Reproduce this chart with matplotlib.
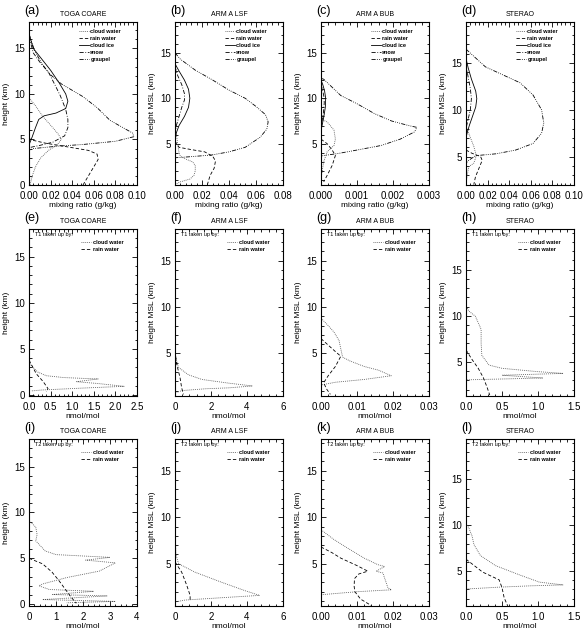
import numpy as np
import matplotlib
matplotlib.use("Agg")
import matplotlib.pyplot as plt
from matplotlib.ticker import MultipleLocator, AutoMinorLocator, FormatStrFormatter

plt.rcParams['font.family'] = ['Liberation Sans', 'DejaVu Sans']

# ---- hydrometeor mixing ratios (g/kg), pairs of (value, height km) ----
a_cloud_water = [(0.001, 0.0), (0.003, 1.0), (0.006, 2.0), (0.011, 3.0), (0.018, 3.8), (0.026, 4.4), (0.030, 5.0),
                 (0.027, 5.6), (0.022, 6.3), (0.013, 7.5), (0.006, 8.7), (0.002, 9.3), (0.0, 9.6)]
a_rain_water = [(0.050, 0.0), (0.055, 1.0), (0.060, 2.0), (0.064, 2.8), (0.063, 3.4), (0.055, 3.8), (0.035, 4.2),
                (0.015, 4.6), (0.004, 4.9), (0.0, 5.1)]
a_cloud_ice = [(0.0, 16.6), (0.004, 15.0), (0.012, 13.8), (0.02, 12.6), (0.028, 11.2), (0.034, 10.0), (0.036, 9.2),
               (0.034, 8.4), (0.025, 7.9), (0.014, 7.6), (0.009, 7.2), (0.006, 6.3), (0.003, 5.3), (0.0, 4.4)]
a_snow = [(0.0, 16.3), (0.004, 14.5), (0.01, 13.5), (0.018, 12.4), (0.024, 11.0), (0.029, 9.8), (0.034, 8.3),
          (0.036, 7.2), (0.036, 6.3), (0.033, 5.4), (0.022, 4.7), (0.01, 4.35), (0.0, 4.1)]
a_graupel = [(0.0, 16.6), (0.005, 14.8), (0.012, 13.3), (0.019, 12.2), (0.03, 11.1), (0.05, 9.7), (0.063, 8.5),
             (0.075, 7.1), (0.087, 6.3), (0.096, 5.7), (0.097, 5.3), (0.08, 4.8), (0.05, 4.45), (0.025, 4.25),
             (0.004, 4.0), (0.0, 3.8)]

b_cloud_water = [(0.0, 0.5), (0.004, 0.8), (0.011, 1.1), (0.014, 1.5), (0.015, 2.0), (0.015, 2.6), (0.013, 3.0),
                 (0.008, 3.3), (0.004, 3.6), (0.003, 4.0), (0.002, 5.0), (0.001, 6.0), (0.0, 6.5)]
b_rain_water = [(0.0, 5.3), (0.003, 4.6), (0.012, 4.35), (0.022, 4.1), (0.028, 3.6), (0.030, 3.1), (0.029, 2.3),
                (0.026, 1.5), (0.024, 0.5)]
b_cloud_ice = [(0.0, 13.8), (0.003, 13.0), (0.007, 12.0), (0.010, 11.0), (0.011, 10.0), (0.010, 9.0),
               (0.007, 8.0), (0.003, 7.0), (0.001, 6.2), (0.0, 5.5)]
b_snow = [(0.0, 13.5), (0.002, 12.5), (0.005, 11.5), (0.007, 10.5), (0.007, 9.8), (0.005, 9.0), (0.003, 8.0),
          (0.001, 7.0), (0.0, 6.0)]
b_graupel = [(0.0, 15.0), (0.004, 14.3), (0.015, 13.1), (0.028, 12.0), (0.04, 10.9), (0.052, 10.0), (0.06, 9.1),
             (0.067, 8.2), (0.069, 7.4), (0.068, 6.6), (0.063, 5.7), (0.052, 4.6), (0.04, 4.1), (0.027, 3.75),
             (0.01, 3.55), (0.0, 3.45)]

c_cloud_water = [(0.0, 7.7), (0.00017, 7.4), (0.00036, 6.5), (0.0004, 5.5), (0.00036, 4.8), (0.00017, 4.1),
                 (0.000075, 3.0), (0.00003, 1.9), (0.0, 1.2)]
c_rain_water = [(0.0, 5.5), (0.00017, 5.0), (0.00031, 4.3), (0.0004, 3.7), (0.00031, 2.6), (0.00017, 1.5),
                (0.000075, 0.8)]
c_cloud_ice = [(0.0, 12.0), (0.00005, 11.5), (0.0001, 10.8), (0.00013, 10.0), (0.00012, 9.0), (0.00008, 8.0),
               (0.00003, 7.0), (0.0, 6.5)]
c_snow = [(0.0, 11.5), (0.00004, 11.0), (0.00008, 10.2), (0.00009, 9.5), (0.00007, 8.5), (0.00003, 7.5),
          (0.0, 6.8)]
c_graupel = [(0.0, 12.2), (0.000075, 12.1), (0.00026, 11.4), (0.00055, 10.3), (0.001, 9.4), (0.00149, 8.3),
             (0.00196, 7.5), (0.00243, 7.0), (0.00266, 6.8), (0.0026, 6.3), (0.0022, 5.5), (0.00167, 4.8),
             (0.001, 4.3), (0.00045, 3.9), (0.000075, 3.7), (0.0, 3.65)]

d_cloud_water = [(0.0, 8.2), (0.0025, 7.5), (0.0072, 6.1), (0.0088, 5.4), (0.0094, 5.0), (0.0072, 4.3),
                 (0.0025, 3.9), (0.001, 2.9), (0.0, 2.1)]
d_rain_water = [(0.0, 5.7), (0.0056, 5.35), (0.0135, 5.0), (0.015, 4.6), (0.012, 3.75), (0.0088, 2.85),
                (0.0072, 2.0)]
d_cloud_ice = [(0.0, 15.5), (0.002, 14.5), (0.005, 13.3), (0.009, 12.0), (0.010, 11.2), (0.009, 10.3),
               (0.006, 9.3), (0.003, 8.3), (0.001, 7.5), (0.0, 7.0)]
d_snow = [(0.0, 14.8), (0.002, 13.5), (0.004, 12.3), (0.005, 11.2), (0.004, 10.0), (0.002, 9.0), (0.0, 8.0)]
d_graupel = [(0.0, 16.5), (0.0056, 15.9), (0.018, 14.6), (0.034, 13.75), (0.05, 12.9), (0.062, 11.6),
             (0.07, 10.0), (0.072, 8.6), (0.07, 7.5), (0.062, 6.4), (0.046, 5.7), (0.028, 5.3), (0.009, 5.1),
             (0.0025, 4.6), (0.0, 4.3)]

# ---- tracer taken up by hydrometeors (nmol/mol), pairs of (value, height km) ----
e_cloud_water = [(0.0, 3.6), (0.05, 3.2), (0.2, 2.5), (0.4, 2.1), (0.8, 1.9), (1.3, 1.8), (1.6, 1.75),
                 (1.1, 1.45), (1.6, 1.25), (2.2, 0.95), (1.2, 0.75), (0.3, 0.55), (0.05, 0.45)]
e_rain_water = [(0.0, 3.8), (0.17, 2.3), (0.33, 1.45), (0.44, 0.7), (0.4, 0.35)]

f_cloud_water = [(0.0, 4.9), (0.19, 3.5), (0.75, 2.7), (1.5, 2.2), (3.0, 1.8), (4.3, 1.5), (3.0, 1.3),
                 (1.7, 1.2), (0.37, 1.0), (0.1, 0.8)]
f_rain_water = [(0.0, 5.25), (0.1, 3.8), (0.28, 2.4), (0.37, 1.3), (0.47, 0.6)]

g_cloud_water = [(0.0, 8.8), (0.002, 8.0), (0.0036, 7.3), (0.005, 6.4), (0.0055, 5.5), (0.006, 4.6),
                 (0.008, 4.2), (0.012, 3.6), (0.016, 3.2), (0.0195, 2.6), (0.012, 2.2), (0.004, 1.9), (0.0, 1.6)]
g_rain_water = [(0.0, 6.6), (0.002, 5.9), (0.004, 5.2), (0.0055, 4.7), (0.004, 3.6), (0.002, 2.6),
                (0.00075, 1.85), (0.0015, 1.2), (0.0026, 0.6)]

h_cloud_water = [(0.0, 11.0), (0.04, 10.5), (0.13, 9.95), (0.2, 8.7), (0.21, 8.5), (0.21, 7.0), (0.22, 5.7),
                 (0.32, 4.65), (0.5, 4.3), (0.98, 3.95), (1.35, 3.75), (0.5, 3.55), (1.07, 3.25), (0.0, 3.05)]
h_rain_water = [(0.0, 6.3), (0.08, 5.3), (0.17, 4.3), (0.24, 3.3), (0.29, 2.3), (0.33, 1.4)]

i_cloud_water = [(0.0, 9.1), (0.25, 8.4), (0.3, 7.6), (0.25, 6.9), (0.6, 5.8), (1.0, 5.4), (3.0, 5.1),
                 (2.1, 4.8), (3.2, 4.5), (2.6, 3.6), (1.4, 2.9), (0.5, 2.2), (0.37, 2.0), (0.75, 1.6),
                 (2.4, 1.4), (0.87, 1.05), (2.9, 0.9), (0.5, 0.5), (3.2, 0.3), (1.4, 0.15)]
i_rain_water = [(0.0, 5.0), (0.5, 4.4), (0.85, 3.5), (1.1, 2.6), (1.35, 1.6), (1.55, 0.8), (1.75, 0.1)]

j_cloud_water = [(0.0, 10.0), (0.02, 8.0), (0.05, 6.0), (0.2, 5.0), (1.1, 4.1), (2.6, 3.0), (3.9, 2.1),
                 (4.7, 1.6), (3.0, 1.4), (0.56, 1.1), (0.04, 0.9)]
j_rain_water = [(0.0, 5.2), (0.37, 4.1), (0.65, 2.7), (0.84, 1.6), (0.84, 1.1)]

k_cloud_water = [(0.0, 8.65), (0.0036, 7.6), (0.0073, 6.7), (0.012, 5.6), (0.0158, 4.9), (0.0177, 4.7),
                 (0.0153, 4.2), (0.0172, 4.0), (0.0186, 2.4), (0.0196, 2.2), (0.0102, 2.0), (0.0, 1.67)]
k_rain_water = [(0.0, 6.8), (0.003, 6.2), (0.0055, 5.6), (0.01, 4.8), (0.013, 4.2), (0.0105, 3.9),
                (0.0093, 3.4), (0.0092, 2.6), (0.0094, 2.0), (0.011, 1.2), (0.014, 0.5)]

l_cloud_water = [(0.0, 10.2), (0.04, 9.7), (0.085, 8.8), (0.11, 7.9), (0.2, 6.7), (0.41, 5.6), (0.74, 4.6),
                 (1.02, 3.8), (1.35, 3.5), (0.9, 3.4), (0.45, 3.25), (0.0, 3.05)]
l_rain_water = [(0.0, 6.3), (0.23, 4.9), (0.46, 4.05), (0.5, 3.2), (0.53, 2.1), (0.58, 1.2)]

sites = ['TOGA COARE', 'ARM A LSF', 'ARM A BUB', 'STERAO']
ylabels = ['height (km)', 'height MSL (km)', 'height MSL (km)', 'height MSL (km)']
letters = 'abcdefghijkl'
species = ['cloud water', 'rain water', 'cloud ice', 'snow', 'graupel']

top_row = [
    [a_cloud_water, a_rain_water, a_cloud_ice, a_snow, a_graupel],
    [b_cloud_water, b_rain_water, b_cloud_ice, b_snow, b_graupel],
    [c_cloud_water, c_rain_water, c_cloud_ice, c_snow, c_graupel],
    [d_cloud_water, d_rain_water, d_cloud_ice, d_snow, d_graupel],
]
t1_row = [[e_cloud_water, e_rain_water], [f_cloud_water, f_rain_water],
          [g_cloud_water, g_rain_water], [h_cloud_water, h_rain_water]]
t2_row = [[i_cloud_water, i_rain_water], [j_cloud_water, j_rain_water],
          [k_cloud_water, k_rain_water], [l_cloud_water, l_rain_water]]

# axis settings per panel
xlims = [0.10, 0.08, 0.003, 0.10, 2.5, 6, 0.03, 1.5, 4, 6, 0.03, 1.5]
xsteps = [0.02, 0.02, 0.001, 0.02, 0.5, 2, 0.01, 0.5, 1, 2, 0.01, 0.5]
xfmts = ['%.2f', '%.2f', '%.3f', '%.2f', '%.1f', '%d', '%.2f', '%.1f', '%d', '%d', '%.2f', '%.1f']
ylims = [(0, 17.9), (0.45, 18.4), (0.45, 18.4), (1.96, 19.4),
         (-0.1, 18.0), (0.42, 18.4), (0.42, 18.4), (1.3, 19.4),
         (-0.2, 18.0), (0.46, 18.4), (0.46, 18.4), (1.2, 19.4)]

styles = {
    'cloud water': (0, (1, 1.3)),
    'rain water': (0, (4, 2.5)),
    'cloud ice': '-',
    'snow': (0, (5, 2, 1, 2)),
    'graupel': (0, (5, 1.5, 1, 1.5, 1, 1.5, 1, 1.5)),
}
colors = {'cloud water': '0.3', 'rain water': 'k', 'cloud ice': 'k', 'snow': 'k', 'graupel': 'k'}

W, H = 584, 632
col_left = [29, 175, 321, 466]
row_top = [22, 229, 439]
row_bot = [185, 396, 606]
ax_w = 108

fig = plt.figure(figsize=(W / 100, H / 100), dpi=100)


def setup(ax, k, col):
    ax.set_xlim(0, xlims[k])
    ax.set_ylim(*ylims[k])
    ax.xaxis.set_major_locator(MultipleLocator(xsteps[k]))
    ax.xaxis.set_major_formatter(FormatStrFormatter(xfmts[k]))
    ax.xaxis.set_minor_locator(AutoMinorLocator(5))
    ax.yaxis.set_major_locator(MultipleLocator(5))
    ax.yaxis.set_minor_locator(MultipleLocator(1))
    ax.tick_params(which='both', direction='in', top=True, right=True, labelsize=7, width=0.6)
    ax.tick_params(axis='x', pad=4.5)
    ax.tick_params(axis='y', pad=3)
    ax.tick_params(which='major', length=3.5)
    ax.tick_params(which='minor', length=1.8)
    for s in ax.spines.values():
        s.set_linewidth(0.8)
    ax.set_ylabel(ylabels[col], fontsize=6, labelpad=3)
    ax.set_title(sites[col], fontsize=5, pad=4)
    ax.text(-0.04, 1.03, '(%s)' % letters[k], transform=ax.transAxes, fontsize=9, ha='left', va='bottom')


for row in range(3):
    for col in range(4):
        k = row * 4 + col
        ax = fig.add_axes([col_left[col] / W, 1 - row_bot[row] / H, ax_w / W,
                           (row_bot[row] - row_top[row]) / H])
        setup(ax, k, col)
        if row == 0:
            profiles = top_row[col]
            names = species
            ax.set_xlabel('mixing ratio (g/kg)', fontsize=6, labelpad=0.5)
        else:
            profiles = (t1_row if row == 1 else t2_row)[col]
            names = species[:2]
            ax.set_xlabel('nmol/mol', fontsize=6, labelpad=0.5)
            ax.text(0.055, 0.965, 'T%d taken up by:' % row, transform=ax.transAxes,
                    fontsize=4, ha='left', va='center')
        for prof, name in zip(profiles, names):
            arr = np.array(prof)
            ax.plot(arr[:, 0], arr[:, 1], color=colors[name], lw=0.6, ls=styles[name], label=name)
        anchor = (0.46, 0.955) if row == 0 else (0.48, 0.935)
        leg = ax.legend(loc='upper left', bbox_to_anchor=anchor, frameon=False,
                        prop={'size': 4, 'weight': 'bold'},
                        handlelength=1.8, handletextpad=0.3, labelspacing=0.35, borderpad=0, borderaxespad=0)

fig.savefig('out.png', dpi=100)
